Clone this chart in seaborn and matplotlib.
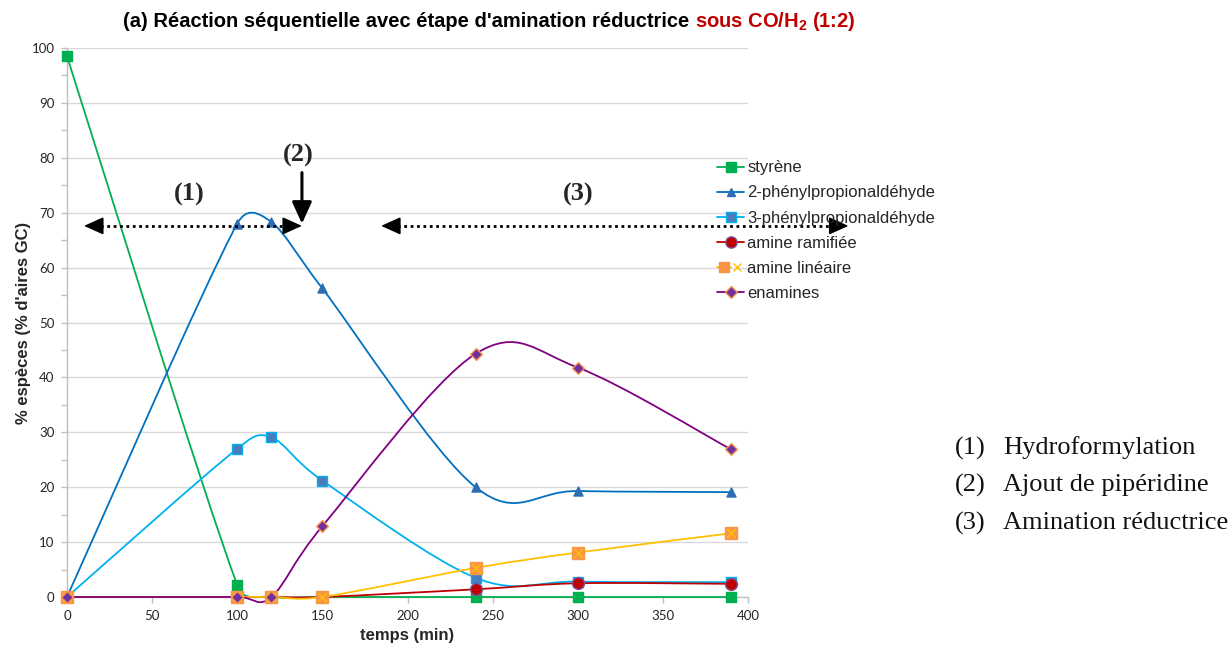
import numpy as np
import pandas as pd
import matplotlib
matplotlib.use("Agg")
import matplotlib.pyplot as plt
import seaborn as sns
from matplotlib.path import Path
from matplotlib.patches import PathPatch
from matplotlib.lines import Line2D
from matplotlib.legend_handler import HandlerTuple

# ---- data -------------------------------------------------------------
temps = [0, 100, 120, 150, 240, 300, 390]
styrene = [98.5, 2.2, 0.0, 0.0, 0.0, 0.0, 0.0]
phenylpropanal_2 = [0.0, 68.0, 68.3, 56.2, 20.0, 19.3, 19.1]
phenylpropanal_3 = [0.0, 27.0, 29.1, 21.2, 3.5, 2.8, 2.7]
amine_ramifiee = [0.0, 0.0, 0.0, 0.0, 1.4, 2.5, 2.4]
amine_lineaire = [0.0, 0.0, 0.0, 0.0, 5.3, 8.1, 11.6]
enamines = [0.0, 0.0, 0.0, 12.9, 44.3, 41.8, 26.9]

series_names = ["styrène", "2-phénylpropionaldéhyde", "3-phénylpropionaldéhyde",
                "amine ramifiée", "amine linéaire", "enamines"]
series_values = [styrene, phenylpropanal_2, phenylpropanal_3,
                 amine_ramifiee, amine_lineaire, enamines]

x_ticks = [0, 50, 100, 150, 200, 250, 300, 350, 400]
y_ticks = [0, 10, 20, 30, 40, 50, 60, 70, 80, 90, 100]

step_numbers = ["(1)", "(2)", "(3)"]
step_names = ["Hydroformylation", "Ajout de pipéridine", "Amination réductrice"]

# ---- styles -----------------------------------------------------------
styles = {
    "styrène": dict(line="#00B050", marker="s", face="#00B050", edge="#00B050", ms=7),
    "2-phénylpropionaldéhyde": dict(line="#0070C0", marker="^", face="#2E6DB4", edge="#2E6DB4", ms=6.5),
    "3-phénylpropionaldéhyde": dict(line="#00B0F0", marker="s", face="#4A7EBB", edge="#00B0F0", ms=7),
    "amine ramifiée": dict(line="#C00000", marker="o", face="#C00000", edge="#7A4F9A", ms=8.5),
    "amine linéaire": dict(line="#FFC000", marker="s", face="#F79646", edge="#F79646", ms=8),
    "enamines": dict(line="#800080", marker="D", face="#7030A0", edge="#F79646", ms=6),
}

sns.set_theme(style="white")
plt.rcParams["font.family"] = ["Liberation Sans", "DejaVu Sans"]
plt.rcParams["mathtext.fontset"] = "custom"
plt.rcParams["mathtext.bf"] = "Liberation Sans:bold"
plt.rcParams["mathtext.rm"] = "Liberation Sans:bold"

W, H = 1232, 646
fig = plt.figure(figsize=(W / 100, H / 100), dpi=100)
fig.patch.set_facecolor("white")
ax = fig.add_axes([67 / W, 1 - 597 / H, (748 - 67) / W, (597 - 48) / H])
ax.set_xlim(0, 400)
ax.set_ylim(0, 100)
ax.set_facecolor("white")


def smooth_path(xs, ys, cap=0.55):
    """Bezier curve through the points, tangents limited by segment length."""
    pts = ax.transData.transform(np.column_stack([xs, ys]))
    n = len(pts)
    verts = [pts[0]]
    codes = [Path.MOVETO]
    for i in range(n - 1):
        p0 = pts[max(i - 1, 0)]
        p1 = pts[i]
        p2 = pts[i + 1]
        p3 = pts[min(i + 2, n - 1)]
        d12 = np.hypot(*(p2 - p1))
        t1 = (p2 - p0) / 6.0
        t2 = (p3 - p1) / 6.0
        for t in (t1, t2):
            ln = np.hypot(*t)
            if ln > cap * d12 and ln > 0:
                t *= cap * d12 / ln
        verts += [p1 + t1, p2 - t2, p2]
        codes += [Path.CURVE4] * 3
    verts = ax.transData.inverted().transform(np.array(verts))
    return Path(verts, codes)


df = pd.DataFrame({"temps": temps})
for name, vals in zip(series_names, series_values):
    df[name] = vals

handles = []
for z, name in enumerate(series_names):
    st = styles[name]
    patch = PathPatch(smooth_path(df["temps"], df[name]), facecolor="none",
                      edgecolor=st["line"], lw=1.3, zorder=3 + z, clip_on=False)
    ax.add_patch(patch)
    sns.scatterplot(data=df, x="temps", y=name, ax=ax, marker=st["marker"],
                    color=st["face"], edgecolor=st["edge"], linewidth=1.0,
                    s=st["ms"] ** 2, zorder=10 + z, clip_on=False, legend=False)
    h = Line2D([], [], color=st["line"], lw=1.3, marker=st["marker"],
               markerfacecolor=st["face"], markeredgecolor=st["edge"],
               markersize=st["ms"] * 0.95)
    if name == "amine linéaire":
        sns.scatterplot(data=df, x="temps", y=name, ax=ax, marker="x",
                        color="#FFC000", linewidth=1.0, s=(st["ms"] * 0.8) ** 2,
                        zorder=10 + z, clip_on=False, legend=False)
        hx = Line2D([], [], lw=0, marker="x", markeredgecolor="#FFC000",
                    markersize=st["ms"] * 0.75)
        h = (h, hx)
    handles.append(h)

# ---- axes cosmetics ---------------------------------------------------
ax.set_xticks(x_ticks)
ax.set_yticks(y_ticks)
ax.set_yticks(np.arange(5, 100, 10), minor=True)
ax.grid(axis="y", which="major", color="#D9D9D9", lw=1.0)
ax.grid(axis="x", visible=False)
for s in ("top", "right"):
    ax.spines[s].set_visible(False)
for s in ("left", "bottom"):
    ax.spines[s].set_color("#BFBFBF")
    ax.spines[s].set_linewidth(1.0)
ax.tick_params(axis="both", which="both", direction="out", color="#BFBFBF",
               length=4, width=1.0, labelsize=9.5, labelcolor="#262626")
ax.tick_params(axis="y", which="both", left=True, pad=5)
ax.tick_params(axis="x", bottom=True, pad=5)
for lab in ax.get_xticklabels() + ax.get_yticklabels():
    lab.set_family(["Lato", "DejaVu Sans"])

ax.set_xlabel("temps (min)", fontsize=12, fontweight="bold", labelpad=5)
ax.set_ylabel("% espèces (% d'aires GC)", fontsize=12, fontweight="bold", labelpad=0.5)

# ---- title in two colours --------------------------------------------
renderer = fig.canvas.get_renderer()
t1 = fig.text(123 / W, 1 - 27 / H,
              "(a) Réaction séquentielle avec étape d'amination réductrice ",
              fontsize=14.5, fontweight="bold", color="black", ha="left", va="baseline")
x_end = t1.get_window_extent(renderer).x1 / W
fig.text(x_end, 1 - 27 / H, r"sous CO/H$_{\mathbf{2}}$ (1:2)",
         fontsize=14.5, fontweight="bold", color="#C00000", ha="left", va="baseline")

# ---- stage annotations -------------------------------------------------
serif = ["Liberation Serif", "DejaVu Serif"]
for lbl, (xx, yy) in zip(step_numbers, [(72, 73.4), (136, 80.5), (300, 73.4)]):
    ax.text(xx, yy, lbl, fontsize=19, fontweight="bold", family=serif,
            ha="center", va="center", zorder=20)

head = "-|>,head_length=1.0,head_width=0.45"
arrow_y = 67.6
for x0, x1 in [(10, 138), (184.5, 459)]:
    ax.plot([x0 + 6, x1 - 6], [arrow_y, arrow_y], color="black", lw=2.0,
            linestyle=(0, (1, 1.3)), clip_on=False, zorder=20)
    for tip, back in [(x0, x0 + 9), (x1, x1 - 9)]:
        ax.annotate("", xy=(tip, arrow_y), xytext=(back, arrow_y),
                    arrowprops=dict(arrowstyle=head, color="black", lw=1.2,
                                    shrinkA=0, shrinkB=0),
                    annotation_clip=False, zorder=21)

ax.annotate("", xy=(138, 68.0), xytext=(138, 77.3),
            arrowprops=dict(arrowstyle="-|>,head_length=1.1,head_width=0.5",
                            color="black", lw=2.2, shrinkA=0, shrinkB=0),
            annotation_clip=False, zorder=21)

# ---- legend -----------------------------------------------------------
leg = fig.legend(handles, series_names, loc="upper left",
                 bbox_to_anchor=(709 / W, 1 - 152 / H), frameon=False,
                 fontsize=12, handlelength=1.6, handletextpad=0.2,
                 labelspacing=0.61, borderpad=0,
                 handler_map={tuple: HandlerTuple(ndivide=None, pad=0)})

# ---- stage list -------------------------------------------------------
for i, (num, txt) in enumerate(zip(step_numbers, step_names)):
    y = 1 - (448 + 37.5 * i) / H
    fig.text(955 / W, y, num, fontsize=19, family=serif, ha="left", va="center",
             color="#111111")
    fig.text(1003 / W, y, txt, fontsize=19, family=serif, ha="left", va="center",
             color="#111111")

fig.savefig("out.png", dpi=100, facecolor="white")
